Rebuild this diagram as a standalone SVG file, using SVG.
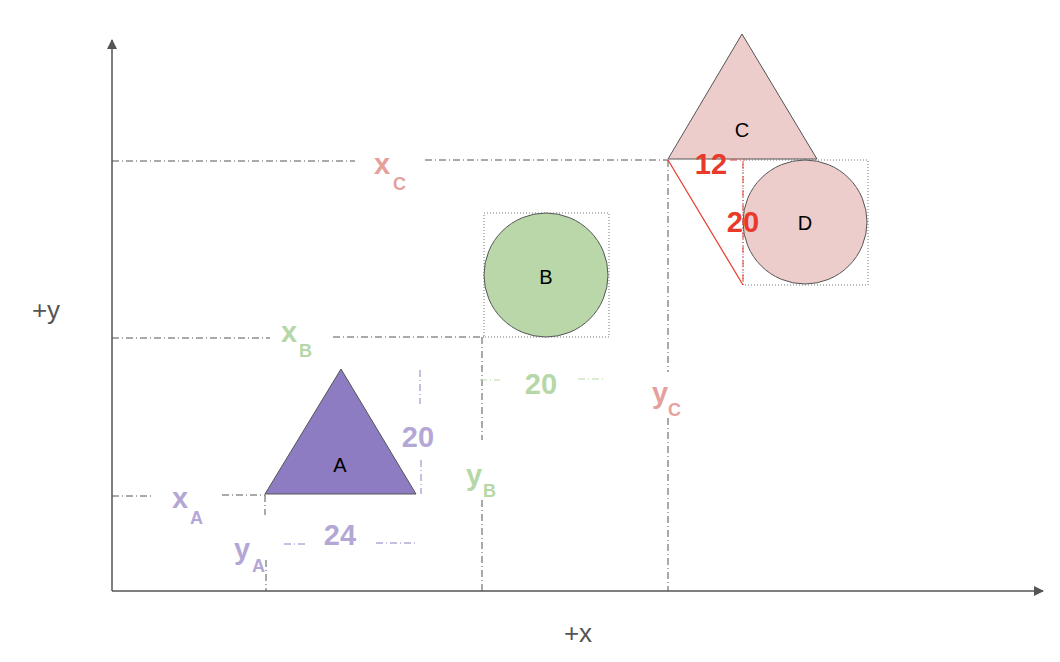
<svg xmlns="http://www.w3.org/2000/svg" width="1060" height="662" viewBox="0 0 1060 662">
<style>
.axis{stroke:#555;stroke-width:1.5;fill:none}
.dd{stroke:#555;stroke-width:1;fill:none;stroke-dasharray:7 3 1 3}
.dot{stroke:#777;stroke-width:1;fill:none;stroke-dasharray:1 2}
.shape{stroke:#555;stroke-width:1}
.lbl{font-family:"Liberation Sans",Arial,sans-serif;font-size:20px;fill:#000;text-anchor:middle}
.ax{font-family:"Liberation Sans",Arial,sans-serif;font-size:26px;fill:#555;text-anchor:middle}
.v{font-family:"Liberation Sans",Arial,sans-serif;font-weight:bold;font-size:29px}
.s{font-family:"Liberation Sans",Arial,sans-serif;font-weight:bold;font-size:18px}
.num{font-family:"Liberation Sans",Arial,sans-serif;font-weight:bold;font-size:29px;text-anchor:middle}
.cA{fill:#b4a7d6}.cB{fill:#b6d7a8}.cC{fill:#e6a09c}.cR{fill:#e8392a}
</style>
<defs>
<marker id="arr" markerWidth="10" markerHeight="10" refX="9" refY="5" orient="auto" markerUnits="userSpaceOnUse">
<path d="M0,0 L10,5 L0,10 z" fill="#555"/>
</marker>
</defs>
<g id="connectors">
<line class="axis" x1="112" y1="591" x2="112" y2="40" marker-end="url(#arr)"/>
<line class="axis" x1="112" y1="591" x2="1043" y2="591" marker-end="url(#arr)"/>
<line class="dd" x1="112" y1="161" x2="355" y2="161"/>
<line class="dd" x1="425" y1="160" x2="668" y2="160"/>
<line class="dd" x1="668" y1="160" x2="668" y2="372"/>
<line class="dd" x1="668" y1="418" x2="668" y2="591"/>
<line class="dd" x1="112" y1="338" x2="270" y2="338"/>
<line class="dd" x1="333" y1="337" x2="484" y2="337"/>
<line class="dd" x1="482" y1="337" x2="482" y2="440"/>
<line class="dd" x1="482" y1="500" x2="482" y2="591"/>
<line class="dd" x1="480" y1="380" x2="500" y2="380" style="stroke:#b6d7a8"/>
<line class="dd" x1="578" y1="379" x2="605" y2="379" style="stroke:#b6d7a8"/>
<line class="dd" x1="112" y1="496" x2="152" y2="496"/>
<line class="dd" x1="222" y1="495" x2="265" y2="495"/>
<line class="dd" x1="265" y1="495" x2="265" y2="515"/>
<line class="dd" x1="266" y1="560" x2="266" y2="591"/>
<line class="dd" x1="284" y1="544" x2="305" y2="544" style="stroke:#8e7cc3"/>
<line class="dd" x1="376" y1="543" x2="415" y2="543" style="stroke:#8e7cc3"/>
<line class="dd" x1="420" y1="370" x2="420" y2="404" style="stroke:#8e7cc3"/>
<line class="dd" x1="421" y1="460" x2="421" y2="494" style="stroke:#8e7cc3"/>
<rect class="dot" x="743" y="160" width="125" height="125"/>
<rect class="dot" x="484" y="213" width="125" height="124"/>
</g>
<g id="node-A">
<polygon class="shape" points="265,494 341,369 416,494" fill="#8e7cc3"/>
<text class="lbl" x="340" y="472">A</text>
</g>
<g id="node-B">
<circle class="shape" cx="546" cy="275" r="62" fill="#b9d7a9"/>
<text class="lbl" x="546" y="284">B</text>
</g>
<g id="node-C">
<polygon class="shape" points="668,159 742,34 817,159" fill="#eccdcc"/>
<text class="lbl" x="742" y="137">C</text>
</g>
<g id="node-D">
<circle class="shape" cx="805" cy="222" r="62" fill="#eccdcc"/>
<text class="lbl" x="805" y="230">D</text>
</g>
<g id="offset">
<line x1="668" y1="160" x2="743" y2="285" stroke="#e8392a" stroke-width="1.2"/>
<line class="dd" x1="743" y1="162" x2="743" y2="285" style="stroke:#e8392a"/>
<line class="dd" x1="730" y1="160" x2="745" y2="160" style="stroke:#e8392a"/>
<text class="num cR" x="711" y="174">12</text>
<text class="num cR" x="743" y="232">20</text>
</g>
<g id="labels">
<text class="ax" x="46" y="319">+y</text>
<text class="ax" x="578" y="642">+x</text>
<text class="cC"><tspan class="v" x="374" y="174">x</tspan><tspan class="s" x="393" y="190">C</tspan></text>
<text class="cB"><tspan class="v" x="281" y="342">x</tspan><tspan class="s" x="299" y="357">B</tspan></text>
<text class="cA"><tspan class="v" x="172" y="508">x</tspan><tspan class="s" x="190" y="524">A</tspan></text>
<text class="cA"><tspan class="v" x="234" y="559">y</tspan><tspan class="s" x="252" y="572">A</tspan></text>
<text class="cB"><tspan class="v" x="466" y="485">y</tspan><tspan class="s" x="483" y="497">B</tspan></text>
<text class="cC"><tspan class="v" x="652" y="403">y</tspan><tspan class="s" x="668" y="416">C</tspan></text>
<text class="num cB" x="541" y="394">20</text>
<text class="num cA" x="418" y="447">20</text>
<text class="num cA" x="340" y="545">24</text>
</g>
</svg>
